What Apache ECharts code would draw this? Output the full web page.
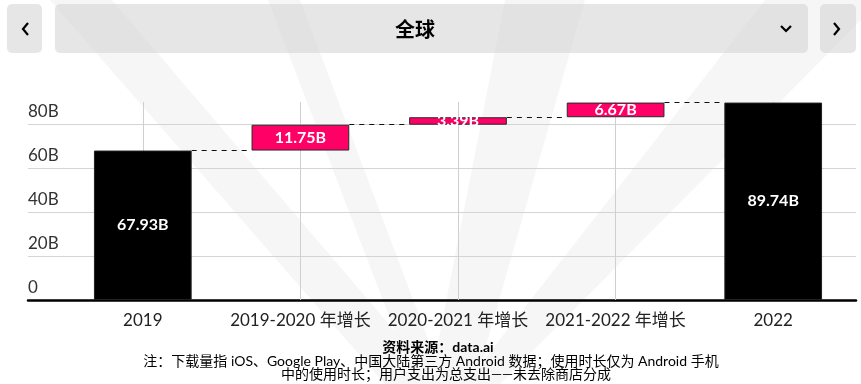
<!DOCTYPE html>
<html>
<head>
<meta charset="utf-8">
<script src="https://cdn.jsdelivr.net/npm/echarts@6/dist/echarts.min.js"></script>
<style>
html,body{margin:0;padding:0;background:#fff;}
#c{width:861px;height:384px;}
</style>
</head>
<body>
<div id="c"></div>
<script>
// ---- data ----
const categories = ['2019', '2019-2020 年增长', '2020-2021 年增长', '2021-2022 年增长', '2022'];
const totals = [67.93, null, null, null, 89.74];
const changes = [null, 11.75, 3.39, 6.67, null];
const yTickValues = [0, 20, 40, 60, 80];
const yMax = 90;
const titleText = '全球';
const sourceText = '资料来源：data.ai';
const noteLine1 = '注：下载量指 iOS、Google Play、中国大陆第三方 Android 数据；使用时长仅为 Android 手机';
const noteLine2 = '中的使用时长；用户支出为总支出——未去除商店分成';

// ---- derived waterfall structure ----
const BAR_FRAC = 0.62;
const base = [];
const shown = [];
const levels = [];
let running = 0;
categories.forEach((c, i) => {
  if (totals[i] != null) {
    base.push(0);
    shown.push({ value: totals[i], itemStyle: { color: '#000000', borderColor: '#222', borderWidth: 1 } });
    running = totals[i];
  } else {
    base.push(running);
    shown.push({ value: changes[i], itemStyle: { color: '#FF0066', borderColor: '#2a2a2a', borderWidth: 1 } });
    running = running + changes[i];
  }
  levels.push(running);
});
const connectors = [];
for (let k = 0; k < categories.length - 1; k++) {
  connectors.push([
    { coord: [k + 0.5 + BAR_FRAC / 2, levels[k]] },
    { coord: [k + 1.5 - BAR_FRAC / 2, levels[k]] }
  ]);
}
const vLines = categories.map(c => ({ xAxis: c }));

const latin = 'Lato, "Noto Sans CJK SC", sans-serif';
const chart = echarts.init(document.getElementById('c'), null, { renderer: 'canvas' });

// watermark polygons (decoration)
const wm = [
  [[50, 0], [112, 0], [440, 384], [385, 384]],
  [[268, 0], [300, 0], [445, 384], [415, 384]],
  [[505, 0], [585, 0], [475, 384], [430, 384]],
  [[765, 0], [861, 0], [861, 20], [500, 384], [465, 384]]
].map(p => ({ type: 'polygon', z: -10, silent: true, shape: { points: p }, style: { fill: '#f6f6f6' } }));

chart.setOption({
  animation: false,
  backgroundColor: '#ffffff',
  graphic: wm.concat([
    { type: 'rect', z: -5, shape: { x: 7, y: 4, width: 35, height: 49, r: 5 }, style: { fill: 'rgba(210,210,210,0.55)' } },
    { type: 'rect', z: -5, shape: { x: 55, y: 4, width: 753, height: 49, r: 5 }, style: { fill: 'rgba(210,210,210,0.55)' } },
    { type: 'rect', z: -5, shape: { x: 820, y: 4, width: 36, height: 49, r: 5 }, style: { fill: 'rgba(210,210,210,0.55)' } },
    { type: 'polyline', shape: { points: [[28, 23], [23, 29], [28, 35]] }, style: { stroke: '#000', lineWidth: 2.2, fill: null } },
    { type: 'polyline', shape: { points: [[834, 23], [839, 29], [834, 35]] }, style: { stroke: '#000', lineWidth: 2.2, fill: null } },
    { type: 'polyline', shape: { points: [[781, 26], [786, 31], [791, 26]] }, style: { stroke: '#000', lineWidth: 2.2, fill: null } },
    { type: 'text', style: { x: 415, y: 29, text: titleText, align: 'center', verticalAlign: 'middle', font: 'bold 20px "Noto Sans CJK SC", sans-serif', fill: '#000' } },
    { type: 'text', style: { x: 438, y: 347, text: sourceText, align: 'center', verticalAlign: 'middle', font: 'bold 14px Lato, "Noto Sans CJK SC", sans-serif', fill: '#000' } },
    { type: 'text', style: { x: 431, y: 361, text: noteLine1, align: 'center', verticalAlign: 'middle', font: '14px Lato, "Noto Sans CJK SC", sans-serif', fill: '#000' } },
    { type: 'text', style: { x: 446, y: 374, text: noteLine2, align: 'center', verticalAlign: 'middle', font: '14px Lato, "Noto Sans CJK SC", sans-serif', fill: '#000' } }
  ]),
  grid: [
    { left: 28, right: 5, top: 102, bottom: 84 },
    { left: 64, right: 9, top: 102, bottom: 84 }
  ],
  xAxis: [
    { gridIndex: 0, type: 'value', min: 0, max: 1, axisLine: { show: true, onZero: false, lineStyle: { color: '#000', width: 2.5 } }, axisTick: { show: false }, axisLabel: { show: false }, splitLine: { show: false } },
    { gridIndex: 1, type: 'category', data: categories, axisLine: { show: false }, axisTick: { show: false }, splitLine: { show: false },
      axisLabel: { color: '#222', fontSize: 17, fontFamily: latin, margin: 12, interval: 0 } },
    { gridIndex: 1, type: 'value', min: 0, max: categories.length, show: false }
  ],
  yAxis: [
    { gridIndex: 0, type: 'value', min: 0, max: yMax, interval: 20,
      axisLine: { show: false }, axisTick: { show: false },
      splitLine: { show: true, showMaxLine: false, lineStyle: { color: '#d4d4d4', width: 1 } },
      axisLabel: { inside: true, margin: 0, verticalAlign: 'bottom', align: 'left', padding: [0, 0, 4, 0], color: '#333', fontSize: 17, fontFamily: latin, showMaxLabel: false,
        formatter: v => yTickValues.indexOf(v) < 0 ? '' : (v === 0 ? '0' : v + 'B') } },
    { gridIndex: 1, type: 'value', min: 0, max: yMax, show: false, splitLine: { show: false } }
  ],
  series: [
    { name: 'base', type: 'bar', xAxisIndex: 1, yAxisIndex: 1, stack: 'w', barWidth: (BAR_FRAC * 100) + '%', z: 1,
      itemStyle: { color: 'rgba(0,0,0,0)' }, data: base, silent: true,
      markLine: { z: 1, silent: true, symbol: ['none', 'none'], label: { show: false }, lineStyle: { color: '#cfcfcf', type: 'solid', width: 1 }, data: vLines } },
    { name: 'value', type: 'bar', xAxisIndex: 1, yAxisIndex: 1, stack: 'w', barWidth: (BAR_FRAC * 100) + '%', z: 3,
      data: shown,
      label: { show: true, position: 'inside', color: '#fff', fontSize: 16, fontWeight: 'bold', fontFamily: latin,
        formatter: p => p.value.toFixed(2) + 'B' } },
    { name: 'conn', type: 'line', xAxisIndex: 2, yAxisIndex: 1, data: [], symbol: 'none', silent: true,
      markLine: { silent: true, symbol: ['none', 'none'], label: { show: false }, lineStyle: { color: '#111', type: [5, 5], width: 1.2 }, data: connectors } }
  ]
});
</script>
</body>
</html>
